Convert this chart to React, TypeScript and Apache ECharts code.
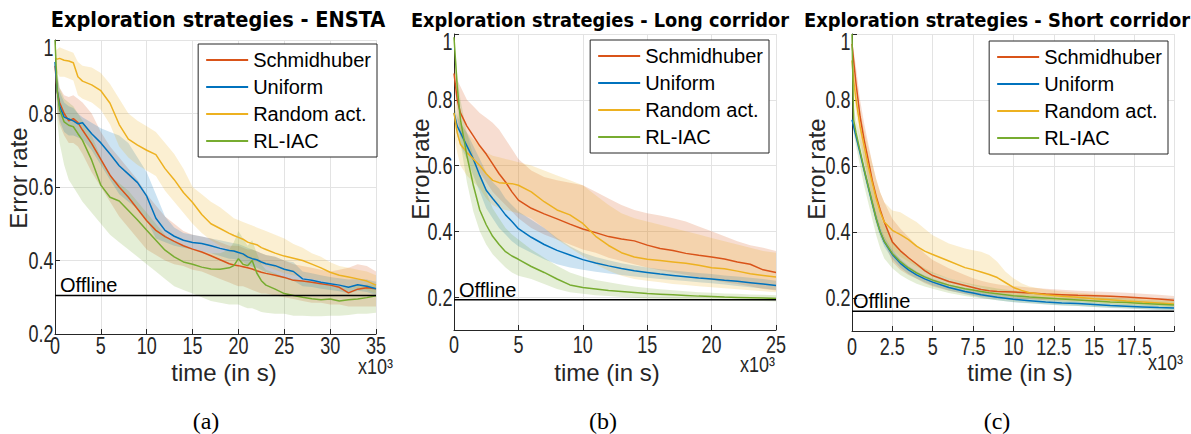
import { useEffect, useRef } from 'react';
import * as echarts from 'echarts';

// ---------- data ----------
const SERIES_NAMES = ['Schmidhuber', 'Uniform', 'Random act.', 'RL-IAC'];
const SERIES_COLORS = ['#D95319', '#0072BD', '#EDB120', '#77AC30'];
const BAND_COLORS = ['rgba(217,83,25,0.2)', 'rgba(0,114,189,0.2)', 'rgba(237,177,32,0.2)', 'rgba(119,172,48,0.2)'];

const TITLES = ['Exploration strategies - ENSTA', 'Exploration strategies - Long corridor', 'Exploration strategies - Short corridor'];
const CAPTIONS = ['(a)', '(b)', '(c)'];
const OFFLINE = [0.305, 0.192, 0.16];
const X_MAX = [35, 25, 19.95];
const X_INTERVAL = [5, 5, 2.5];
const Y_MIN = [0.2, 0.1, 0.1];
const Y_MAX = [1, 1, 1];

// tick labels
const X_TICKS = [
  [0, 5, 10, 15, 20, 25, 30, 35],
  [0, 5, 10, 15, 20, 25],
  [0, 2.5, 5, 7.5, 10, 12.5, 15, 17.5],
];
const Y_TICKS = [
  [0.2, 0.4, 0.6, 0.8, 1],
  [0.2, 0.4, 0.6, 0.8, 1],
  [0.2, 0.4, 0.6, 0.8, 1],
];

// (a) ENSTA, time in 10^3 s
const X_A = [0, 0.25, 0.5, 1, 1.5, 2, 2.5, 3, 4, 5, 6, 7, 8, 9, 10, 11, 12, 13, 14, 15, 16, 17, 18, 19, 19.5, 20, 20.5, 21, 21.5, 22, 22.5, 23, 24, 25, 26, 27, 28, 29, 30, 31, 32, 33, 34, 35];
const A_SCHMID = [0.93, 0.86, 0.83, 0.80, 0.78, 0.786, 0.775, 0.755, 0.718, 0.675, 0.632, 0.6, 0.572, 0.54, 0.508, 0.482, 0.465, 0.452, 0.44, 0.431, 0.423, 0.413, 0.402, 0.391, 0.388, 0.386, 0.383, 0.38, 0.377, 0.372, 0.368, 0.365, 0.36, 0.354, 0.346, 0.344, 0.341, 0.337, 0.333, 0.327, 0.312, 0.322, 0.326, 0.323];
const A_SCHMID_HI = [0.95, 0.9, 0.87, 0.85, 0.845, 0.85, 0.84, 0.83, 0.8, 0.75, 0.71, 0.68, 0.65, 0.62, 0.58, 0.55, 0.52, 0.5, 0.48, 0.47, 0.465, 0.46, 0.45, 0.44, 0.44, 0.44, 0.435, 0.43, 0.43, 0.425, 0.42, 0.415, 0.41, 0.4, 0.39, 0.385, 0.38, 0.375, 0.37, 0.375, 0.38, 0.39, 0.385, 0.37];
const A_SCHMID_LO = [0.9, 0.8, 0.77, 0.74, 0.72, 0.72, 0.71, 0.69, 0.64, 0.6, 0.56, 0.52, 0.49, 0.46, 0.43, 0.415, 0.4, 0.39, 0.385, 0.375, 0.37, 0.36, 0.35, 0.34, 0.335, 0.33, 0.33, 0.325, 0.32, 0.315, 0.31, 0.31, 0.305, 0.3, 0.295, 0.29, 0.285, 0.285, 0.28, 0.28, 0.275, 0.275, 0.275, 0.275];
const A_UNIF = [0.94, 0.86, 0.82, 0.79, 0.785, 0.78, 0.772, 0.775, 0.745, 0.72, 0.69, 0.658, 0.635, 0.612, 0.575, 0.515, 0.482, 0.466, 0.455, 0.449, 0.446, 0.44, 0.433, 0.427, 0.426, 0.422, 0.418, 0.41, 0.405, 0.402, 0.396, 0.391, 0.386, 0.376, 0.37, 0.35, 0.346, 0.341, 0.337, 0.333, 0.327, 0.334, 0.33, 0.323];
const A_UNIF_HI = [0.95, 0.9, 0.86, 0.83, 0.82, 0.815, 0.8, 0.79, 0.775, 0.76, 0.75, 0.74, 0.72, 0.68, 0.64, 0.58, 0.52, 0.49, 0.475, 0.47, 0.465, 0.46, 0.455, 0.45, 0.447, 0.445, 0.44, 0.435, 0.43, 0.425, 0.42, 0.415, 0.41, 0.4, 0.395, 0.37, 0.365, 0.36, 0.355, 0.352, 0.348, 0.35, 0.348, 0.342];
const A_UNIF_LO = [0.92, 0.82, 0.78, 0.75, 0.74, 0.74, 0.735, 0.73, 0.7, 0.66, 0.62, 0.58, 0.56, 0.54, 0.51, 0.46, 0.45, 0.44, 0.435, 0.43, 0.425, 0.42, 0.412, 0.405, 0.404, 0.4, 0.396, 0.388, 0.383, 0.38, 0.374, 0.368, 0.362, 0.352, 0.345, 0.33, 0.328, 0.323, 0.32, 0.316, 0.31, 0.318, 0.314, 0.306];
const A_RAND = [0.95, 0.948, 0.95, 0.945, 0.943, 0.938, 0.9, 0.888, 0.878, 0.862, 0.828, 0.77, 0.73, 0.714, 0.7, 0.688, 0.65, 0.62, 0.585, 0.558, 0.525, 0.5, 0.487, 0.474, 0.468, 0.463, 0.458, 0.45, 0.446, 0.443, 0.435, 0.43, 0.42, 0.412, 0.406, 0.4, 0.39, 0.38, 0.368, 0.36, 0.355, 0.35, 0.344, 0.333];
const A_RAND_HI = [0.97, 0.975, 0.98, 0.975, 0.97, 0.965, 0.94, 0.93, 0.925, 0.91, 0.88, 0.84, 0.8, 0.78, 0.765, 0.75, 0.72, 0.69, 0.65, 0.6, 0.58, 0.56, 0.545, 0.525, 0.515, 0.51, 0.505, 0.5, 0.495, 0.49, 0.485, 0.48, 0.47, 0.46, 0.445, 0.435, 0.42, 0.41, 0.395, 0.385, 0.38, 0.375, 0.37, 0.36];
const A_RAND_LO = [0.93, 0.91, 0.9, 0.9, 0.895, 0.89, 0.85, 0.84, 0.83, 0.81, 0.77, 0.71, 0.68, 0.66, 0.645, 0.63, 0.59, 0.56, 0.53, 0.5, 0.475, 0.455, 0.44, 0.43, 0.425, 0.42, 0.41, 0.405, 0.4, 0.395, 0.39, 0.385, 0.375, 0.365, 0.36, 0.355, 0.35, 0.345, 0.34, 0.335, 0.33, 0.325, 0.32, 0.31];
const A_RLIAC = [1.0, 0.86, 0.81, 0.777, 0.768, 0.764, 0.745, 0.727, 0.673, 0.605, 0.572, 0.562, 0.536, 0.51, 0.482, 0.455, 0.428, 0.41, 0.396, 0.39, 0.382, 0.377, 0.376, 0.38, 0.386, 0.405, 0.39, 0.386, 0.4, 0.366, 0.345, 0.333, 0.322, 0.31, 0.305, 0.3, 0.296, 0.293, 0.295, 0.29, 0.293, 0.295, 0.299, 0.304];
const A_RLIAC_HI = [1.0, 0.92, 0.87, 0.84, 0.83, 0.82, 0.8, 0.78, 0.74, 0.68, 0.63, 0.61, 0.59, 0.56, 0.53, 0.5, 0.47, 0.45, 0.44, 0.43, 0.425, 0.42, 0.42, 0.43, 0.45, 0.48, 0.46, 0.44, 0.455, 0.42, 0.39, 0.375, 0.365, 0.355, 0.35, 0.345, 0.34, 0.335, 0.335, 0.33, 0.33, 0.33, 0.335, 0.335];
const A_RLIAC_LO = [1.0, 0.78, 0.72, 0.66, 0.62, 0.6, 0.58, 0.56, 0.53, 0.5, 0.47, 0.45, 0.43, 0.41, 0.39, 0.37, 0.35, 0.33, 0.32, 0.31, 0.3, 0.29, 0.285, 0.28, 0.28, 0.28, 0.275, 0.27, 0.27, 0.265, 0.26, 0.258, 0.255, 0.255, 0.25, 0.25, 0.248, 0.248, 0.25, 0.25, 0.252, 0.255, 0.255, 0.258];

// (b) Long corridor
const X_B = [0, 0.25, 0.5, 1, 1.5, 2, 2.5, 3, 3.5, 4, 4.5, 5, 6, 7, 8, 9, 10, 11, 12, 13, 14, 15, 16, 17, 18, 19, 20, 21, 22, 23, 24, 25];
const B_SCHMID = [0.88, 0.8, 0.76, 0.72, 0.69, 0.66, 0.635, 0.605, 0.575, 0.55, 0.52, 0.495, 0.47, 0.453, 0.438, 0.422, 0.407, 0.396, 0.384, 0.377, 0.371, 0.358, 0.348, 0.342, 0.333, 0.327, 0.322, 0.316, 0.307, 0.3, 0.283, 0.275];
const B_SCHMID_HI = [0.9, 0.86, 0.84, 0.8, 0.78, 0.76, 0.745, 0.73, 0.71, 0.68, 0.65, 0.62, 0.585, 0.565, 0.555, 0.548, 0.54, 0.52, 0.5, 0.48, 0.465, 0.455, 0.448, 0.44, 0.43, 0.415, 0.4, 0.385, 0.37, 0.358, 0.35, 0.34];
const B_SCHMID_LO = [0.86, 0.74, 0.69, 0.65, 0.61, 0.58, 0.55, 0.52, 0.5, 0.48, 0.46, 0.44, 0.41, 0.39, 0.375, 0.36, 0.345, 0.335, 0.32, 0.31, 0.3, 0.29, 0.282, 0.275, 0.268, 0.26, 0.252, 0.245, 0.24, 0.233, 0.225, 0.22];
const B_UNIF = [0.76, 0.72, 0.7, 0.66, 0.62, 0.57, 0.525, 0.5, 0.476, 0.45, 0.43, 0.408, 0.382, 0.36, 0.342, 0.328, 0.314, 0.304, 0.295, 0.287, 0.28, 0.275, 0.27, 0.266, 0.262, 0.258, 0.255, 0.251, 0.248, 0.244, 0.24, 0.235];
const B_UNIF_HI = [0.78, 0.75, 0.73, 0.7, 0.66, 0.62, 0.58, 0.55, 0.53, 0.5, 0.48, 0.46, 0.435, 0.41, 0.38, 0.355, 0.335, 0.322, 0.312, 0.303, 0.296, 0.29, 0.285, 0.281, 0.277, 0.273, 0.27, 0.266, 0.263, 0.259, 0.255, 0.25];
const B_UNIF_LO = [0.74, 0.69, 0.66, 0.62, 0.57, 0.52, 0.47, 0.44, 0.41, 0.39, 0.37, 0.355, 0.335, 0.315, 0.3, 0.29, 0.283, 0.277, 0.272, 0.267, 0.263, 0.259, 0.255, 0.252, 0.249, 0.245, 0.242, 0.238, 0.234, 0.23, 0.226, 0.222];
const B_RAND = [0.76, 0.7, 0.665, 0.64, 0.62, 0.6, 0.575, 0.555, 0.548, 0.546, 0.545, 0.54, 0.52, 0.49, 0.465, 0.45, 0.424, 0.385, 0.357, 0.335, 0.322, 0.315, 0.311, 0.307, 0.303, 0.297, 0.289, 0.286, 0.279, 0.271, 0.266, 0.261];
const B_RAND_HI = [0.8, 0.76, 0.73, 0.7, 0.68, 0.66, 0.64, 0.63, 0.625, 0.62, 0.615, 0.61, 0.6, 0.585, 0.57, 0.555, 0.54, 0.51, 0.48, 0.455, 0.44, 0.43, 0.42, 0.41, 0.4, 0.39, 0.38, 0.37, 0.36, 0.35, 0.34, 0.335];
const B_RAND_LO = [0.7, 0.64, 0.6, 0.57, 0.55, 0.53, 0.5, 0.48, 0.47, 0.465, 0.46, 0.455, 0.44, 0.41, 0.375, 0.35, 0.325, 0.3, 0.28, 0.265, 0.255, 0.25, 0.245, 0.24, 0.237, 0.233, 0.23, 0.227, 0.224, 0.221, 0.218, 0.215];
const B_RLIAC = [0.99, 0.84, 0.74, 0.63, 0.54, 0.465, 0.42, 0.385, 0.36, 0.338, 0.325, 0.315, 0.293, 0.275, 0.255, 0.237, 0.229, 0.225, 0.22, 0.217, 0.214, 0.211, 0.209, 0.207, 0.205, 0.203, 0.202, 0.2, 0.199, 0.198, 0.197, 0.196];
const B_RLIAC_HI = [1.0, 0.88, 0.8, 0.7, 0.63, 0.57, 0.52, 0.47, 0.44, 0.41, 0.39, 0.375, 0.345, 0.32, 0.295, 0.275, 0.262, 0.252, 0.245, 0.238, 0.232, 0.228, 0.224, 0.221, 0.218, 0.215, 0.213, 0.211, 0.21, 0.208, 0.207, 0.206];
const B_RLIAC_LO = [0.98, 0.78, 0.67, 0.55, 0.46, 0.4, 0.36, 0.33, 0.31, 0.29, 0.275, 0.265, 0.255, 0.24, 0.225, 0.215, 0.21, 0.206, 0.203, 0.2, 0.198, 0.196, 0.195, 0.194, 0.193, 0.192, 0.191, 0.19, 0.19, 0.189, 0.188, 0.187];

// (c) Short corridor
const X_C = [0, 0.1, 0.25, 0.5, 0.75, 1, 1.25, 1.5, 1.75, 2, 2.5, 3, 3.5, 4, 4.5, 5, 6, 7, 7.5, 8, 8.5, 9, 9.5, 10, 10.5, 11, 12, 13, 14, 15, 16, 17, 18, 19, 19.95];
const C_SCHMID = [0.97, 0.92, 0.85, 0.75, 0.68, 0.62, 0.558, 0.508, 0.467, 0.43, 0.37, 0.343, 0.322, 0.303, 0.283, 0.268, 0.25, 0.238, 0.232, 0.226, 0.222, 0.22, 0.219, 0.218, 0.217, 0.215, 0.212, 0.21, 0.208, 0.207, 0.205, 0.203, 0.2, 0.197, 0.193];
const C_SCHMID_HI = [0.98, 0.95, 0.9, 0.8, 0.73, 0.67, 0.61, 0.56, 0.52, 0.49, 0.44, 0.41, 0.385, 0.36, 0.335, 0.315, 0.29, 0.27, 0.26, 0.252, 0.246, 0.242, 0.238, 0.236, 0.234, 0.232, 0.228, 0.225, 0.222, 0.22, 0.218, 0.216, 0.213, 0.21, 0.206];
const C_SCHMID_LO = [0.95, 0.88, 0.8, 0.7, 0.62, 0.56, 0.5, 0.45, 0.41, 0.37, 0.31, 0.285, 0.27, 0.258, 0.245, 0.235, 0.222, 0.213, 0.208, 0.204, 0.202, 0.2, 0.199, 0.198, 0.197, 0.196, 0.194, 0.193, 0.192, 0.191, 0.19, 0.189, 0.187, 0.185, 0.182];
const C_UNIF = [0.74, 0.72, 0.69, 0.64, 0.588, 0.538, 0.488, 0.44, 0.4, 0.37, 0.332, 0.305, 0.285, 0.27, 0.258, 0.248, 0.232, 0.22, 0.215, 0.21, 0.206, 0.202, 0.199, 0.196, 0.194, 0.192, 0.188, 0.185, 0.183, 0.18, 0.177, 0.175, 0.173, 0.171, 0.17];
const C_UNIF_HI = [0.75, 0.735, 0.705, 0.655, 0.605, 0.555, 0.505, 0.457, 0.417, 0.386, 0.346, 0.318, 0.297, 0.281, 0.268, 0.258, 0.241, 0.229, 0.224, 0.219, 0.215, 0.211, 0.208, 0.205, 0.203, 0.2, 0.196, 0.193, 0.19, 0.187, 0.184, 0.182, 0.18, 0.178, 0.177];
const C_UNIF_LO = [0.73, 0.705, 0.675, 0.625, 0.572, 0.522, 0.472, 0.424, 0.385, 0.355, 0.318, 0.292, 0.273, 0.259, 0.248, 0.238, 0.223, 0.211, 0.206, 0.201, 0.197, 0.193, 0.19, 0.187, 0.185, 0.184, 0.18, 0.177, 0.176, 0.173, 0.17, 0.168, 0.166, 0.164, 0.163];
const C_RAND = [0.92, 0.86, 0.8, 0.72, 0.66, 0.6, 0.55, 0.5, 0.46, 0.43, 0.405, 0.392, 0.377, 0.357, 0.342, 0.332, 0.312, 0.292, 0.286, 0.279, 0.271, 0.262, 0.247, 0.232, 0.223, 0.216, 0.21, 0.205, 0.202, 0.198, 0.195, 0.191, 0.188, 0.185, 0.182];
const C_RAND_HI = [0.95, 0.9, 0.84, 0.77, 0.71, 0.66, 0.61, 0.56, 0.52, 0.49, 0.465, 0.46, 0.445, 0.43, 0.41, 0.39, 0.365, 0.35, 0.345, 0.34, 0.33, 0.31, 0.28, 0.26, 0.245, 0.235, 0.226, 0.22, 0.216, 0.212, 0.208, 0.204, 0.2, 0.197, 0.194];
const C_RAND_LO = [0.88, 0.82, 0.76, 0.67, 0.61, 0.55, 0.5, 0.45, 0.41, 0.38, 0.345, 0.325, 0.31, 0.295, 0.283, 0.274, 0.26, 0.245, 0.238, 0.232, 0.226, 0.22, 0.212, 0.205, 0.2, 0.197, 0.193, 0.19, 0.188, 0.185, 0.182, 0.179, 0.177, 0.174, 0.172];
const C_RLIAC = [1.0, 0.74, 0.7, 0.645, 0.59, 0.54, 0.49, 0.44, 0.4, 0.372, 0.335, 0.31, 0.291, 0.276, 0.264, 0.254, 0.239, 0.228, 0.224, 0.22, 0.216, 0.213, 0.21, 0.207, 0.205, 0.203, 0.2, 0.197, 0.194, 0.191, 0.188, 0.186, 0.183, 0.181, 0.179];
const C_RLIAC_HI = [1.0, 0.78, 0.74, 0.69, 0.64, 0.59, 0.54, 0.49, 0.45, 0.42, 0.375, 0.345, 0.322, 0.305, 0.29, 0.278, 0.26, 0.247, 0.242, 0.237, 0.233, 0.229, 0.226, 0.223, 0.22, 0.218, 0.214, 0.21, 0.207, 0.204, 0.201, 0.198, 0.195, 0.193, 0.191];
const C_RLIAC_LO = [1.0, 0.7, 0.66, 0.6, 0.54, 0.49, 0.44, 0.39, 0.35, 0.32, 0.29, 0.27, 0.255, 0.243, 0.235, 0.228, 0.215, 0.206, 0.202, 0.199, 0.196, 0.193, 0.19, 0.188, 0.186, 0.184, 0.181, 0.178, 0.176, 0.173, 0.171, 0.169, 0.167, 0.165, 0.164];

const PANELS = [
  { x: X_A, mean: [A_SCHMID, A_UNIF, A_RAND, A_RLIAC], lo: [A_SCHMID_LO, A_UNIF_LO, A_RAND_LO, A_RLIAC_LO], hi: [A_SCHMID_HI, A_UNIF_HI, A_RAND_HI, A_RLIAC_HI] },
  { x: X_B, mean: [B_SCHMID, B_UNIF, B_RAND, B_RLIAC], lo: [B_SCHMID_LO, B_UNIF_LO, B_RAND_LO, B_RLIAC_LO], hi: [B_SCHMID_HI, B_UNIF_HI, B_RAND_HI, B_RLIAC_HI] },
  { x: X_C, mean: [C_SCHMID, C_UNIF, C_RAND, C_RLIAC], lo: [C_SCHMID_LO, C_UNIF_LO, C_RAND_LO, C_RLIAC_LO], hi: [C_SCHMID_HI, C_UNIF_HI, C_RAND_HI, C_RLIAC_HI] },
];

// ---------- layout ----------
const GRIDS = [
  { left: 55, top: 40, width: 321, height: 294 },
  { left: 454, top: 34, width: 322, height: 296 },
  { left: 852, top: 34, width: 322, height: 297 },
];
const LEGEND_RIGHT = [814, 422, 23];
const LEGEND_TOP = [44, 40, 41];
const TITLE_X = [218, 600, 997];
const TITLE_SIZE = [19.4, 17.8, 17.9];
const YNAME_X = [18, 420, 816];
const YNAME_Y = [178, 169, 169];
const XNAME_X = [224, 607, 1020];
const XTICK_Y = [346, 345, 347];
const X10_X = [358, 740, 1148];
const X10_Y = [366, 364, 362];
const CAPTION_X = [206, 603, 997];
const OFFLINE_DX = [5, 5, 1];

const SANS = '"Liberation Sans", Arial, sans-serif';
const SERIF = '"Liberation Serif", "Times New Roman", serif';
const AXIS_COLOR = '#262626';
const GRID_COLOR = '#e3e3e3';

const fmt = (v: number) => String(+Number(v).toFixed(2));

function textEl(x: number, y: number, text: string, o: any = {}) {
  return {
    type: 'text', x, y, z: 100, rotation: o.rotation || 0, scaleY: o.scaleY || 1, silent: true,
    style: {
      text,
      fontFamily: o.fontFamily || SANS,
      fontSize: o.fontSize || 20,
      fontWeight: o.fontWeight || 'normal',
      fill: o.fill || '#000',
      textAlign: o.align || 'center',
      textVerticalAlign: o.verticalAlign || 'middle',
    },
  };
}

function buildOption() {
  const series: any[] = [];
  PANELS.forEach((p, gi) => {
    for (let k = 0; k < 4; k++) {
      const xs = p.x, lo = p.lo[k], hi = p.hi[k];
      series.push({
        type: 'custom', xAxisIndex: gi, yAxisIndex: gi, silent: true, z: 1,
        data: [[xs[0], lo[0]]],
        renderItem: (_params: any, api: any) => {
          const pts: number[][] = [];
          for (let j = 0; j < xs.length; j++) pts.push(api.coord([xs[j], hi[j]]));
          for (let j = xs.length - 1; j >= 0; j--) pts.push(api.coord([xs[j], lo[j]]));
          return { type: 'polygon', shape: { points: pts }, style: { fill: BAND_COLORS[k] } };
        },
      });
    }
    for (let k = 0; k < 4; k++) {
      series.push({
        type: 'line', name: SERIES_NAMES[k], xAxisIndex: gi, yAxisIndex: gi,
        data: p.x.map((xv, j) => [xv, p.mean[k][j]]),
        color: SERIES_COLORS[k], symbol: 'none', showSymbol: false, z: 3,
        lineStyle: { width: 1.5, color: SERIES_COLORS[k] },
      });
    }
    series.push({
      type: 'line', name: 'Offline', xAxisIndex: gi, yAxisIndex: gi,
      data: [[0, OFFLINE[gi]], [X_MAX[gi], OFFLINE[gi]]],
      color: '#000', symbol: 'none', z: 4, silent: true,
      lineStyle: { width: 1.5, color: '#000' },
    });
  });

  return {
    animation: false,
    backgroundColor: '#fff',
    grid: GRIDS.map((g) => ({ ...g, containLabel: false })),
    xAxis: GRIDS.map((_, i) => ({
      type: 'value', gridIndex: i, min: 0, max: X_MAX[i], interval: X_INTERVAL[i],
      axisLine: { show: true, onZero: false, lineStyle: { color: AXIS_COLOR, width: 1 } },
      axisTick: { show: true, inside: true, length: 5, lineStyle: { color: AXIS_COLOR } },
      axisLabel: { show: false },
      splitLine: { show: true, lineStyle: { color: GRID_COLOR, width: 1 } },
    })),
    yAxis: GRIDS.map((_, i) => ({
      type: 'value', gridIndex: i, min: Y_MIN[i], max: Y_MAX[i],
      ...(i === 0 ? { interval: 0.2 } : { splitNumber: 5 }),
      axisLine: { show: true, onZero: false, lineStyle: { color: AXIS_COLOR, width: 1 } },
      axisTick: { show: true, inside: true, length: 5, lineStyle: { color: AXIS_COLOR } },
      axisLabel: { show: false },
      splitLine: { show: true, lineStyle: { color: GRID_COLOR, width: 1 } },
    })),
    legend: GRIDS.map((_, i) => ({
      right: LEGEND_RIGHT[i], top: LEGEND_TOP[i], orient: 'vertical',
      data: SERIES_NAMES, icon: 'rect', itemWidth: 42, itemHeight: 2, itemGap: 7,
      padding: [6, 6, 6, 8], borderColor: AXIS_COLOR, borderWidth: 1, backgroundColor: '#fff',
      selectedMode: false, z: 10,
      textStyle: { fontFamily: SANS, fontSize: 20, color: '#000', lineHeight: 20 },
    })),
    series,
  };
}

export default function App() {
  const ref = useRef<HTMLDivElement>(null);
  useEffect(() => {
    const chart = echarts.init(ref.current as HTMLDivElement, null, { renderer: 'svg' });
    chart.setOption(buildOption() as any);
    const g: any[] = [];
    for (let i = 0; i < 3; i++) {
      g.push(textEl(TITLE_X[i], 20, TITLES[i], { fontFamily: '"DejaVu Sans", sans-serif', fontWeight: 'bold', fontSize: TITLE_SIZE[i], scaleY: 1.1 }));
      g.push(textEl(YNAME_X[i], YNAME_Y[i], 'Error rate', { fontSize: 24, rotation: Math.PI / 2, fill: AXIS_COLOR }));
      g.push(textEl(XNAME_X[i], 372, 'time (in s)', { fontSize: 24, fill: AXIS_COLOR }));
      g.push(textEl(X10_X[i], X10_Y[i], 'x10³', { fontSize: 18, scaleY: 1.2, align: 'left', fill: AXIS_COLOR }));
      g.push(textEl(CAPTION_X[i], 421, CAPTIONS[i], { fontFamily: SERIF, fontSize: 24 }));
      // tick labels, placed through the axes' own scales
      X_TICKS[i].forEach((v) => {
        const p = chart.convertToPixel({ gridIndex: i } as any, [v, Y_MIN[i]]) as number[];
        g.push(textEl(p[0], XTICK_Y[i], fmt(v), { fontSize: 18, scaleY: 1.3, fill: AXIS_COLOR }));
      });
      Y_TICKS[i].forEach((v) => {
        const p = chart.convertToPixel({ gridIndex: i } as any, [0, v]) as number[];
        const dy = v === Y_MAX[i] ? 8 : 0;
        g.push(textEl(p[0] - 1.5, p[1] + dy, fmt(v), { fontSize: 18, scaleY: 1.3, align: 'right', fill: AXIS_COLOR }));
      });
      const p = chart.convertToPixel({ gridIndex: i } as any, [0, OFFLINE[i]]) as number[];
      g.push(textEl(p[0] + OFFLINE_DX[i], p[1], 'Offline', { fontSize: 20, align: 'left', verticalAlign: 'bottom', fill: '#000' }));
    }
    chart.setOption({ graphic: g } as any);
    return () => chart.dispose();
  }, []);
  return <div ref={ref} style={{ position: 'fixed', left: 0, top: 0, width: 1191, height: 434, background: '#fff' }} />;
}
